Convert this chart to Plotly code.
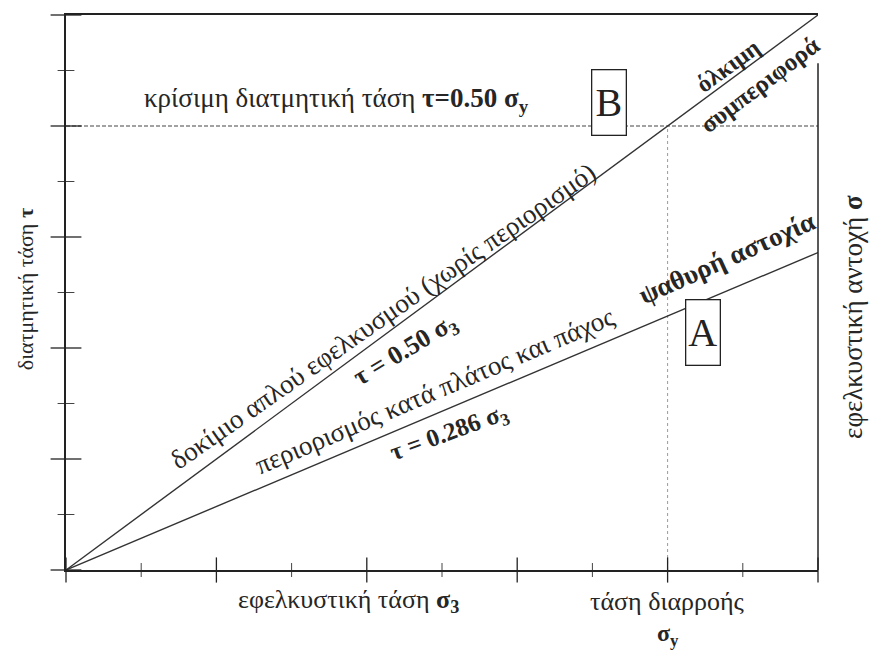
import numpy as np
import plotly.graph_objects as go

# Stress axes, expressed in units of the yield stress σy
sigma_range = [0.0, 1.25]
tau_range = [0.0, 0.625]
sigma_y = 1.0
tau_critical = 0.50          # critical shear stress τ = 0.50 σy

# tick spacing (major / minor) on each axis
sigma_major, sigma_minor = 0.25, 0.125
tau_major, tau_minor = 0.125, 0.0625

# Two loading states: τ = k · σ3
line_names = ["uniaxial", "constrained"]
line_slopes = [0.50, 0.286]
line_sigma = [0.0, 1.25]

FONT = "Liberation Serif"
INK = "#262626"
AXIS = "#222222"

fig = go.Figure()

for name, k in zip(line_names, line_slopes):
    fig.add_trace(go.Scatter(
        x=line_sigma, y=[k * s for s in line_sigma], mode="lines", name=name,
        line=dict(color="#333333", width=1.4), showlegend=False, hoverinfo="skip"))

# critical shear stress (horizontal) and yield stress (vertical) reference lines
fig.add_shape(type="line", xref="x", yref="y", x0=sigma_range[0], x1=sigma_range[1],
              y0=tau_critical, y1=tau_critical,
              line=dict(color="#444444", width=1.2, dash="4px,2px"), layer="below")
fig.add_shape(type="line", xref="x", yref="y", x0=sigma_y, x1=sigma_y,
              y0=0, y1=tau_critical,
              line=dict(color="#9a9a9a", width=1, dash="dot"), layer="below")
# right frame edge (left open at the top where the label runs past it)
fig.add_shape(type="line", xref="paper", yref="paper", x0=1, x1=1, y0=0, y1=0.913,
              line=dict(color=AXIS, width=1.5))


# tick marks that cross the axis lines on both sides
def cross_ticks(values, on_x, size, width, color):
    vals = list(values)
    if on_x:
        x, y, sym = vals, [tau_range[0]] * len(vals), "line-ns"
    else:
        x, y, sym = [sigma_range[0]] * len(vals), vals, "line-ew"
    fig.add_trace(go.Scatter(x=x, y=y, mode="markers", cliponaxis=False,
                             marker=dict(symbol=sym, size=size,
                                         line=dict(width=width, color=color)),
                             showlegend=False, hoverinfo="skip"))


eps = 1e-9
cross_ticks(np.arange(sigma_range[0], sigma_range[1] + eps, sigma_major), True, 18, 1.3, AXIS)
cross_ticks(np.arange(sigma_minor, sigma_range[1], sigma_major), True, 10, 1.0, "#444444")
cross_ticks(np.arange(tau_range[0], tau_range[1] + eps, tau_major), False, 22, 1.3, AXIS)
cross_ticks(np.arange(tau_minor, tau_range[1], tau_major), False, 12, 1.0, "#444444")


def slope_of(name):
    return line_slopes[line_names.index(name)]


def on_line(name, s, text, shift, angle, size=27, bold=False):
    t = f"<b>{text}</b>" if bold else text
    fig.add_annotation(x=s, y=slope_of(name) * s, text=t, showarrow=False,
                       textangle=angle, yshift=shift, xanchor="center", yanchor="middle",
                       font=dict(family=FONT, size=size, color=INK))


on_line("uniaxial", 0.527, "δοκίμιο απλού εφελκυσμού (χωρίς περιορισμό)", 20, -35)
on_line("uniaxial", 0.5635, "τ = 0.50 σ<sub>3</sub>", -31, -31, size=26, bold=True)
on_line("uniaxial", 1.100, "όλκιμη", 16, -36, size=24, bold=True)
on_line("uniaxial", 1.1536, "συμπεριφορά", -27, -37, size=25, bold=True)
on_line("constrained", 0.6117, "περιορισμός κατά πλάτος και πάχος", 24, -23)
on_line("constrained", 0.638, "τ = 0.286 σ<sub>3</sub>", -26, -20, size=25, bold=True)
on_line("constrained", 1.0987, "ψαθυρή αστοχία", 33, -24, size=27, bold=True)

# critical shear label above the dashed line
fig.add_annotation(x=0.449, y=tau_critical, yshift=26, showarrow=False,
                   xanchor="center", yanchor="middle",
                   text="κρίσιμη διατμητική τάση <b>τ=0.50 σ<sub>y</sub></b>",
                   font=dict(family=FONT, size=27, color=INK))

# region markers
for letter, sx, ty in [("B", 0.9034, 0.5265), ("A", 1.0588, 0.268)]:
    fig.add_annotation(x=sx, y=ty, text=letter, showarrow=False,
                       xanchor="center", yanchor="middle",
                       bgcolor="white", bordercolor=AXIS, borderwidth=1.3,
                       borderpad=0, width=33, height=64,
                       font=dict(family=FONT, size=40, color=AXIS))

# axis captions
fig.add_annotation(xref="paper", yref="paper", x=0, y=0.506, xshift=-41,
                   xanchor="center", yanchor="middle",
                   text="διατμητική τάση <b>τ</b>", textangle=-90, showarrow=False,
                   font=dict(family=FONT, size=22, color=INK))
fig.add_annotation(xref="paper", yref="paper", x=1, y=0.456, xshift=35,
                   xanchor="center", yanchor="middle",
                   text="εφελκυστική αντοχή <b>σ</b>", textangle=-90, showarrow=False,
                   font=dict(family=FONT, size=27, color=INK))
fig.add_annotation(xref="x", yref="paper", x=0.470, y=0, yshift=-31, showarrow=False,
                   xanchor="center", yanchor="middle",
                   text="εφελκυστική τάση <b>σ<sub>3</sub></b>",
                   font=dict(family=FONT, size=26, color=INK))
fig.add_annotation(xref="x", yref="paper", x=sigma_y, y=0, yshift=-31, showarrow=False,
                   xanchor="center", yanchor="middle",
                   text="τάση διαρροής", font=dict(family=FONT, size=26, color=INK))
fig.add_annotation(xref="x", yref="paper", x=sigma_y, y=0, yshift=-65, showarrow=False,
                   xanchor="center", yanchor="middle",
                   text="<b>σ<sub>y</sub></b>", font=dict(family=FONT, size=24, color=INK))

fig.update_layout(
    width=869, height=654,
    margin=dict(l=66, r=51, t=15, b=84),
    paper_bgcolor="white", plot_bgcolor="white",
    showlegend=False,
    xaxis=dict(range=sigma_range, showgrid=False, zeroline=False, showticklabels=False,
               ticks="", showline=True, linecolor=AXIS, linewidth=1.5, mirror=True),
    yaxis=dict(range=tau_range, showgrid=False, zeroline=False, showticklabels=False,
               ticks="", showline=True, linecolor=AXIS, linewidth=1.5),
)

fig.write_html("out.html")
